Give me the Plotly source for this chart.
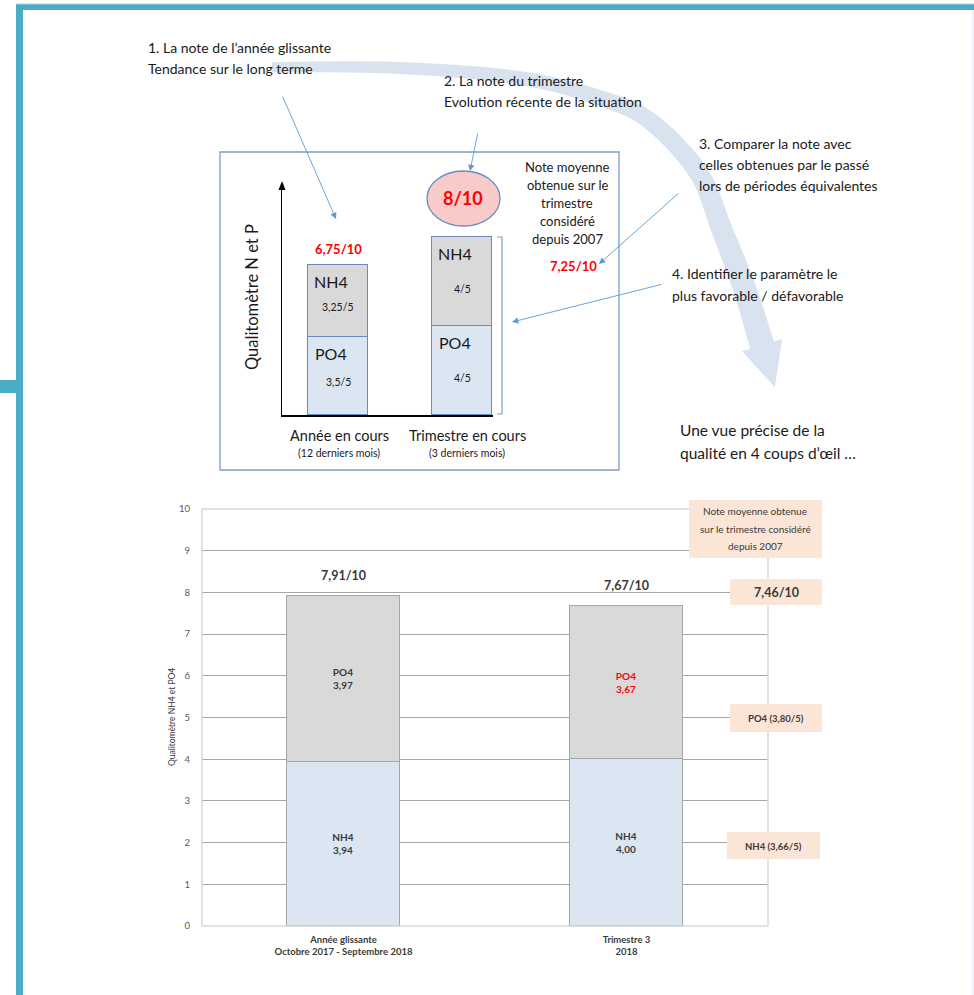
import numpy as np
import plotly.graph_objects as go

W, H = 974, 995

# ---- Schéma explicatif (partie haute) ----
schema_categories = ["Année en cours", "Trimestre en cours"]
schema_subtitles = ["(12 derniers mois)", "(3 derniers mois)"]
schema_po4 = [3.5, 4.0]
schema_nh4 = [3.25, 4.0]
schema_reference = 7.25

# ---- Graphique qualitomètre (partie basse) ----
periods = ["Année glissante", "Trimestre 3"]
period_details = ["Octobre 2017 - Septembre 2018", "2018"]
nh4_scores = [3.94, 4.00]
po4_scores = [3.97, 3.67]
ref_total = 7.46
ref_po4 = 3.80
ref_nh4 = 3.66
y_ticks = list(range(0, 11))

TEAL = "#4BACC6"
BLUE_LINE = "#7E9BC8"
ARROW = "#5B9BD5"
TXT = "#1A1A1A"
DARK = "#3A3A3A"
RED = "#FF0000"
PEACH = "#FBE5D6"
LIGHT_BLUE = "#DCE6F2"
GREY_FILL = "#D9D9D9"


def fx(x):
    return x / W


def fy(y):
    return 1 - y / H


def short(v):
    return f"{v:g}".replace(".", ",")


def two(v):
    return f"{v:.2f}".replace(".", ",")


fig = go.Figure()

# ---- upper schematic bars (x2 / y2) ----
xs = [0, 1]
fig.add_trace(go.Bar(x=xs, y=schema_po4, xaxis="x2", yaxis="y2", width=0.484,
                     marker=dict(color=LIGHT_BLUE, line=dict(color="#6A8CC0", width=1.4)),
                     hoverinfo="skip"))
fig.add_trace(go.Bar(x=xs, y=schema_nh4, xaxis="x2", yaxis="y2", width=0.484,
                     marker=dict(color=GREY_FILL, line=dict(color="#6A8CC0", width=1.4)),
                     hoverinfo="skip"))

# ---- lower chart bars ----
fig.add_trace(go.Bar(
    x=xs, y=nh4_scores, width=0.4,
    marker=dict(color=LIGHT_BLUE, line=dict(color="#A6A6A6", width=1)),
    text=[f"<b>NH4<br>{two(v)}</b>" for v in nh4_scores],
    textposition="inside", insidetextanchor="middle",
    textfont=dict(size=10, color=[DARK, DARK]), hoverinfo="skip"))
fig.add_trace(go.Bar(
    x=xs, y=po4_scores, width=0.4,
    marker=dict(color=GREY_FILL, line=dict(color="#A6A6A6", width=1)),
    text=[f"<b>PO4<br>{two(v)}</b>" for v in po4_scores],
    textposition="inside", insidetextanchor="middle",
    textfont=dict(size=10, color=[DARK, RED]), hoverinfo="skip"))

annotations = []
shapes = []


def label(x, y, text, size=14, color=TXT, anchor="left", bold=False, angle=0):
    if bold:
        text = f"<b>{text}</b>"
    annotations.append(dict(x=fx(x), y=fy(y), xref="paper", yref="paper", text=text,
                            showarrow=False, xanchor=anchor, yanchor="middle",
                            textangle=angle, font=dict(size=size, color=color)))


def arrow(tail, tip):
    annotations.append(dict(x=fx(tip[0]), y=fy(tip[1]), xref="paper", yref="paper",
                            ax=tail[0] - tip[0], ay=tail[1] - tip[1], text="",
                            showarrow=True, arrowhead=2, arrowsize=1.4, arrowwidth=0.9,
                            arrowcolor=ARROW))


def rect(x0, y0, x1, y1, fill=None, line=None, lw=1, layer="above"):
    shapes.append(dict(type="rect", xref="paper", yref="paper",
                       x0=fx(x0), x1=fx(x1), y0=fy(y1), y1=fy(y0),
                       fillcolor=fill if fill else "rgba(0,0,0,0)",
                       line=dict(color=line if line else "rgba(0,0,0,0)", width=lw if line else 0),
                       layer=layer))


def path(points, fill, line=None, lw=1, layer="below", closed=True):
    d = "M " + " L ".join(f"{fx(x):.5f},{fy(y):.5f}" for x, y in points)
    if closed:
        d += " Z"
    shapes.append(dict(type="path", xref="paper", yref="paper", path=d,
                       fillcolor=fill if fill else "rgba(0,0,0,0)",
                       line=dict(color=line if line else "rgba(0,0,0,0)", width=lw if line else 0),
                       layer=layer))


# ---- page frame ----
rect(16, 4, 23, 995, fill=TEAL, layer="below")
rect(16, 4, 974, 10, fill=TEAL, layer="below")
rect(0, 380, 17, 393, fill=TEAL, layer="below")
shapes.append(dict(type="line", xref="paper", yref="paper", x0=fx(16), x1=fx(974),
                   y0=fy(4), y1=fy(4), line=dict(color="#9ED3E2", width=1), layer="below"))
shapes.append(dict(type="line", xref="paper", yref="paper", x0=fx(973), x1=fx(973),
                   y0=fy(10), y1=fy(995), line=dict(color="#DCE6F0", width=1.2), layer="below"))

# ---- large curved guide arrow ----
guide = np.array([(272, 67), (400, 68), (520, 78), (600, 98), (650, 121),
                  (698, 172), (722, 230), (745, 290), (762, 345)], float)


def catmull(points, n=14):
    P = np.vstack([points[0], points, points[-1]])
    out = []
    for i in range(1, len(P) - 2):
        p0, p1, p2, p3 = P[i - 1], P[i], P[i + 1], P[i + 2]
        for t in np.linspace(0, 1, n, endpoint=False):
            out.append(0.5 * ((2 * p1) + (-p0 + p2) * t
                              + (2 * p0 - 5 * p1 + 4 * p2 - p3) * t * t
                              + (-p0 + 3 * p1 - 3 * p2 + p3) * t ** 3))
    out.append(P[-2])
    return np.array(out)


c = catmull(guide)
tan = np.gradient(c, axis=0)
tan /= np.linalg.norm(tan, axis=1, keepdims=True)
nrm = np.column_stack([-tan[:, 1], tan[:, 0]])
hw = np.linspace(5, 12.5, len(c))[:, None]
left = c + nrm * hw
right = c - nrm * hw
end, d_end, n_end = c[-1], tan[-1], nrm[-1]
head = [end + n_end * 21, end + d_end * 44, end - n_end * 21]
poly = list(left) + head + list(right[::-1])
path(poly, fill="rgba(190,207,230,0.58)")

# ---- upper schematic frame ----
rect(220, 152, 619, 470, line=BLUE_LINE, lw=1.3, layer="below")
# arrowhead of vertical axis
path([(282, 181), (285.5, 190), (278.5, 190)], fill="black", layer="above")
# bracket beside second bar
path([(497, 237), (502, 237), (502, 414), (497, 414)], fill=None, line=BLUE_LINE,
     lw=1.2, layer="above", closed=False)
# ellipse for the quarter score
shapes.append(dict(type="circle", xref="paper", yref="paper", x0=fx(427), x1=fx(500),
                   y0=fy(226), y1=fy(171), fillcolor="#F8CACA",
                   line=dict(color="#6A8CC0", width=1.3), layer="above"))

# ---- lower chart border and side boxes ----
rect(202, 509, 768, 926, line="#D9D9D9", lw=1.5, layer="above")
rect(689, 500, 822, 558, fill=PEACH)
rect(730, 579, 822, 605, fill=PEACH)
rect(730, 704, 822, 732, fill=PEACH)
rect(727, 832, 820, 859, fill=PEACH)

# ---- guidance texts ----
label(146, 48, "1. La note de l’année glissante")
label(146, 68, "Tendance sur le long terme")
label(442, 80, "2. La note du trimestre")
label(442, 101, "Evolution récente de la situation")
label(697, 143, "3. Comparer la note avec")
label(697, 164, "celles obtenues par le passé")
label(697, 185, "lors de périodes équivalentes")
label(670, 274, "4. Identifier le paramètre le")
label(670, 295, "plus favorable / défavorable")
label(678, 430, "Une vue précise de la", size=15.5)
label(678, 453, "qualité en 4 coups d’œil …", size=15.5)

arrow((282, 95), (336, 219))
arrow((478, 132), (470, 171))
arrow((680, 192), (599, 264))
arrow((663, 284), (512, 322))

# ---- upper schematic labels ----
for i, line_txt in enumerate(["Note moyenne", "obtenue sur le", "trimestre",
                              "considéré", "depuis 2007"]):
    label(567, 167 + 18 * i, line_txt, size=13, anchor="center")
label(573, 266, f"{short(schema_reference)}/10", size=13, color=RED, anchor="center", bold=True)
label(252, 297, "Qualitomètre N et P", size=16.5, anchor="center", angle=-90)

schema_totals = [p + n for p, n in zip(schema_po4, schema_nh4)]
for i in range(2):
    cx = [339, 467][i]
    label(cx, 435, schema_categories[i], size=14.5, anchor="center")
    label(cx, 453, schema_subtitles[i], size=10.5, anchor="center")

annotations.append(dict(x=0, y=schema_totals[0], xref="x2", yref="y2", yshift=16,
                        text=f"<b>{short(schema_totals[0])}/10</b>", showarrow=False,
                        font=dict(size=13, color=RED), yanchor="middle"))
label(463, 198, f"{short(schema_totals[1])}/10", size=18, color=RED, anchor="center", bold=True)

for i in range(2):
    po4, nh4 = schema_po4[i], schema_nh4[i]
    for name, bottom, val in [("PO4", 0, po4), ("NH4", po4, nh4)]:
        top = bottom + val
        annotations.append(dict(x=i, y=top - 0.72, xref="x2", yref="y2", xshift=-7,
                                text=name, showarrow=False, font=dict(size=16, color=TXT),
                                yanchor="middle"))
        annotations.append(dict(x=i, y=bottom + 0.42 * val, xref="x2", yref="y2",
                                text=f"{short(val)}/5", showarrow=False,
                                font=dict(size=10.5, color=TXT), yanchor="middle"))

# ---- lower chart labels ----
totals = [a + b for a, b in zip(nh4_scores, po4_scores)]
for i, t in enumerate(totals):
    annotations.append(dict(x=i, y=t, xref="x", yref="y", yshift=21,
                            text=f"<b>{two(t)}/10</b>", showarrow=False,
                            font=dict(size=12.5, color=DARK), yanchor="middle"))

label(755, 511, "Note moyenne obtenue", size=10, color=DARK, anchor="center")
label(755, 529, "sur le trimestre considéré", size=10, color=DARK, anchor="center")
label(755, 546, "depuis 2007", size=10, color=DARK, anchor="center")
label(776, 592, f"{two(ref_total)}/10", size=12.5, color=DARK, anchor="center", bold=True)
label(776, 718, f"PO4 ({two(ref_po4)}/5)", size=9.5, color=DARK, anchor="center", bold=True)
label(773, 846, f"NH4 ({two(ref_nh4)}/5)", size=9.5, color=DARK, anchor="center", bold=True)
label(172, 717, "Qualitomètre NH4 et PO4", size=8.5, color=DARK, anchor="center", angle=-90)

fig.update_layout(
    template="none",
    width=W, height=H, autosize=False,
    margin=dict(l=0, r=0, t=0, b=0, pad=0, autoexpand=False),
    paper_bgcolor="white", plot_bgcolor="rgba(0,0,0,0)",
    barmode="stack", showlegend=False, bargap=0,
    font=dict(family="Lato, Carlito, 'Open Sans', sans-serif", color=TXT),
    xaxis=dict(domain=[fx(202), fx(768)], range=[-0.5, 1.5], tickvals=xs,
               ticktext=[f"<b>{p}</b><br><b>{d}</b>" for p, d in zip(periods, period_details)],
               showgrid=False, zeroline=False, showline=False, ticks="", automargin=False,
               tickfont=dict(size=9.5, color=DARK), ticklabelstandoff=6, fixedrange=True),
    yaxis=dict(domain=[fy(926), fy(509)], range=[0, 10], tickvals=y_ticks,
               showgrid=True, gridcolor="#A6A6A6", gridwidth=1.4, zeroline=False,
               showline=False, ticks="", tickfont=dict(size=9.5, color="#595959"),
               automargin=False, ticklabelstandoff=11, fixedrange=True),
    xaxis2=dict(domain=[fx(282), fx(493)], range=[(282 - 338) / 124, (493 - 338) / 124],
                anchor="y2", showline=True, linecolor="black", linewidth=1.6, automargin=False,
                showticklabels=False, showgrid=False, zeroline=False, ticks="", fixedrange=True),
    yaxis2=dict(domain=[fy(415), fy(187)], range=[0, (415 - 187) / 22.2], anchor="x2",
                showline=True, linecolor="black", linewidth=1.2, showticklabels=False,
                automargin=False, showgrid=False, zeroline=False, ticks="", fixedrange=True),
    shapes=shapes, annotations=annotations,
)

fig.write_html("out.html")
